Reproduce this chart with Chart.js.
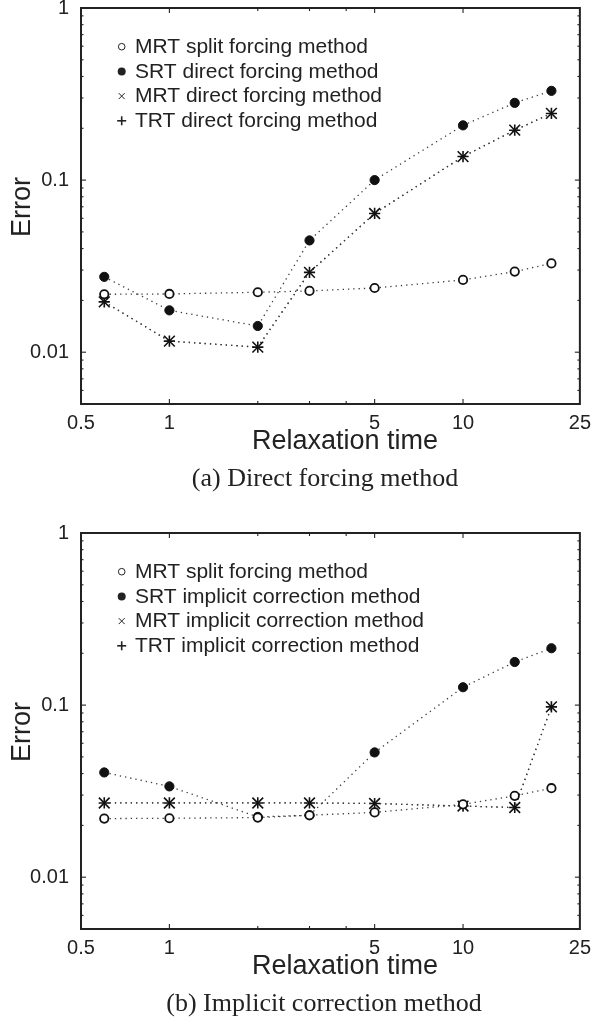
<!DOCTYPE html>
<html><head><meta charset="utf-8">
<script src="https://cdn.jsdelivr.net/npm/chart.js@4.4.1/dist/chart.umd.min.js"></script>
<style>
html,body{margin:0;padding:0;background:#fff;}
body{width:598px;height:1023px;position:relative;overflow:hidden;font-family:"Liberation Sans",Arial,sans-serif;color:#222;}
.box{position:absolute;left:0;width:598px;height:490px;}
.t{position:absolute;white-space:nowrap;}
.xt{font-size:27px;line-height:27px;width:300px;text-align:center;}
.yt{font-size:27px;line-height:30px;width:100px;height:30px;text-align:center;transform:rotate(-90deg);}
.cap{font-family:"Liberation Serif","Times New Roman",serif;font-size:26px;line-height:26px;width:400px;text-align:center;color:#222;}
</style></head><body>
<div class="box" style="top:-20px"><canvas id="cA"></canvas></div>
<div class="box" style="top:505px"><canvas id="cB"></canvas></div>

<div class="t yt" style="left:-29.5px;top:192px;">Error</div>
<div class="t xt" style="left:195px;top:427px;">Relaxation time</div>
<div class="t cap" style="left:125px;top:465px;">(a) Direct forcing method</div>

<div class="t yt" style="left:-29.5px;top:717px;">Error</div>
<div class="t xt" style="left:195px;top:952px;">Relaxation time</div>
<div class="t cap" style="left:124px;top:990px;">(b) Implicit correction method</div>

<script>
// ---- data ----
const relaxationTime = [0.6, 1, 2, 3, 5, 10, 15, 20];
const xTickLabels = [0.5, 1, 5, 10, 25];
const xMajorTicks = [1, 5, 10];
const xMinorTicks = [2, 3, 4];
const yTickLabels = [1, 0.1, 0.01];
const yMinorTicks = [0.006, 0.007, 0.008, 0.009,
  0.02, 0.03, 0.04, 0.05, 0.06, 0.07, 0.08, 0.09,
  0.2, 0.3, 0.4, 0.5, 0.6, 0.7, 0.8, 0.9];

const directLabels = ['MRT split forcing method', 'SRT direct forcing method',
  'MRT direct forcing method', 'TRT direct forcing method'];
const implicitLabels = ['MRT split forcing method', 'SRT implicit correction method',
  'MRT implicit correction method', 'TRT implicit correction method'];

// (a) direct forcing
const mrtSplitA  = [0.0217, 0.0218, 0.0223, 0.0227, 0.0236, 0.0263, 0.0294, 0.0328];
const srtDirect  = [0.0274, 0.0175, 0.0142, 0.0446, 0.100, 0.208, 0.281, 0.330];
const mrtDirect  = [0.0196, 0.0116, 0.0107, 0.0291, 0.064, 0.137, 0.195, 0.244];
const trtDirect  = [0.0196, 0.0116, 0.0107, 0.0291, 0.064, 0.137, 0.195, 0.244];

// (b) implicit correction
const mrtSplitB   = [0.0219, 0.0220, 0.0222, 0.0229, 0.0238, 0.0265, 0.0297, 0.0329];
const srtImplicit = [0.0406, 0.0337, 0.0224, 0.0229, 0.0531, 0.127, 0.178, 0.214];
const mrtImplicit = [0.0270, 0.0270, 0.0270, 0.0270, 0.0268, 0.0259, 0.0254, 0.0977];
const trtImplicit = [0.0270, 0.0270, 0.0270, 0.0270, 0.0268, 0.0259, 0.0254, 0.0977];

// ---- styles ----
const INK = '#111';
const FONT = '"Liberation Sans", Arial, sans-serif';
const markerStyles = [
  {pointStyle:'circle', pointRadius:4.2, pointBackgroundColor:'#fff', pointBorderColor:INK, pointBorderWidth:1.8},
  {pointStyle:'circle', pointRadius:4.6, pointBackgroundColor:INK, pointBorderColor:INK, pointBorderWidth:1},
  {pointStyle:'crossRot', pointRadius:7.6, pointBorderColor:INK, pointBorderWidth:1.6},
  {pointStyle:'cross', pointRadius:5.6, pointBorderColor:INK, pointBorderWidth:1.6}
];

const framePlugin = {
  id: 'frame',
  afterDatasetsDraw(chart) {
    const {ctx, chartArea: a, scales: {x, y}} = chart;
    ctx.save();
    ctx.strokeStyle = '#222';
    ctx.lineCap = 'butt';
    const seg = (x1, y1, x2, y2) => { ctx.beginPath(); ctx.moveTo(x1, y1); ctx.lineTo(x2, y2); ctx.stroke(); };
    ctx.lineWidth = 1.1;
    xMajorTicks.forEach(v => { const p = x.getPixelForValue(v); seg(p, a.bottom, p, a.bottom - 5); seg(p, a.top, p, a.top + 5); });
    xMinorTicks.forEach(v => { const p = x.getPixelForValue(v); seg(p, a.bottom, p, a.bottom - 3); seg(p, a.top, p, a.top + 3); });
    yTickLabels.forEach(v => { const p = y.getPixelForValue(v); seg(a.left, p, a.left + 5, p); seg(a.right, p, a.right - 5, p); });
    yMinorTicks.forEach(v => { const p = y.getPixelForValue(v); seg(a.left, p, a.left + 2.5, p); seg(a.right, p, a.right - 2.5, p); });
    ctx.lineWidth = 2;
    ctx.strokeRect(a.left, a.top, a.right - a.left, a.bottom - a.top);

    // legend inside plot area
    const labels = chart.data.datasets.map(d => d.label);
    ctx.font = '21px ' + FONT;
    ctx.textBaseline = 'middle';
    ctx.fillStyle = '#222';
    labels.forEach((lab, i) => {
      const cy = a.top + 38.7 + 24.7 * i;
      const cx = a.left + 40.7;
      ctx.strokeStyle = '#222';
      if (i === 0) { ctx.lineWidth = 1; ctx.beginPath(); ctx.arc(cx, cy, 3.3, 0, Math.PI * 2); ctx.stroke(); }
      else if (i === 1) { ctx.beginPath(); ctx.arc(cx, cy, 4, 0, Math.PI * 2); ctx.fill(); }
      else if (i === 2) { ctx.lineWidth = 1; seg(cx - 3, cy - 3, cx + 3, cy + 3); seg(cx - 3, cy + 3, cx + 3, cy - 3); }
      else { ctx.lineWidth = 1.6; seg(cx - 4.5, cy, cx + 4.5, cy); seg(cx, cy - 4.5, cx, cy + 4.5); }
      ctx.fillText(lab, a.left + 54, cy + 0.5);
    });
    ctx.restore();
  }
};

function makeChart(id, labels, series) {
  const datasets = series.map((vals, i) => Object.assign({
    label: labels[i],
    data: relaxationTime.map((t, j) => ({x: t, y: vals[j]})),
    showLine: true,
    borderColor: '#3a3a3a',
    borderWidth: 1.3,
    borderDash: [1.3, 4],
    fill: false,
    tension: 0
  }, markerStyles[i]));
  return new Chart(document.getElementById(id), {
    type: 'scatter',
    data: {datasets},
    plugins: [framePlugin],
    options: {
      responsive: true,
      maintainAspectRatio: false,
      devicePixelRatio: 1,
      animation: false,
      layout: {padding: {top: 28, right: 14, bottom: 0, left: 0}},
      plugins: {legend: {display: false}, tooltip: {enabled: false}},
      scales: {
        x: {
          type: 'logarithmic', min: 0.5, max: 25,
          afterBuildTicks: s => { s.ticks = xTickLabels.map(v => ({value: v})); },
          afterFit: s => { s.height = 66; },
          grid: {display: false, drawTicks: false},
          border: {display: false},
          ticks: {autoSkip: false, maxRotation: 0, minRotation: 0, padding: 7, color: '#222',
            font: {family: FONT, size: 20}, callback: v => String(v)}
        },
        y: {
          type: 'logarithmic', min: 0.005, max: 1,
          afterBuildTicks: s => { s.ticks = yTickLabels.map(v => ({value: v})); },
          afterFit: s => { s.width = 81; },
          grid: {display: false, drawTicks: false},
          border: {display: false},
          ticks: {autoSkip: false, padding: 12, color: '#222',
            font: {family: FONT, size: 20}, callback: v => String(v)}
        }
      }
    }
  });
}

makeChart('cA', directLabels, [mrtSplitA, srtDirect, mrtDirect, trtDirect]);
makeChart('cB', implicitLabels, [mrtSplitB, srtImplicit, mrtImplicit, trtImplicit]);
</script>
</body></html>
